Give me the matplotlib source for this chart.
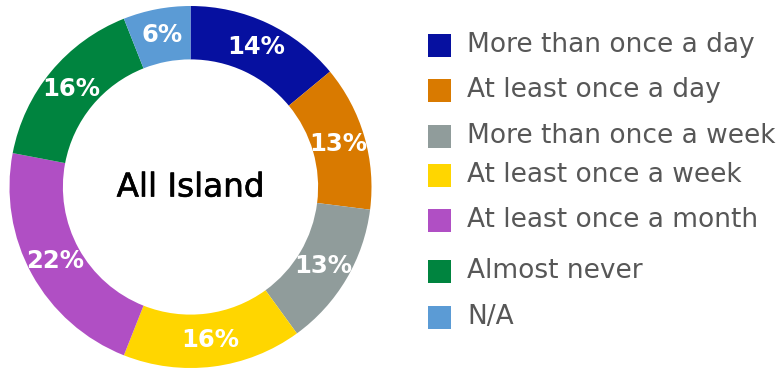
import matplotlib.pyplot as plt
import matplotlib.patheffects as pe
from matplotlib.patches import Rectangle

# 频率分类与占比
categories = [
    "More than once a day",
    "At least once a day",
    "More than once a week",
    "At least once a week",
    "At least once a month",
    "Almost never",
    "N/A",
]
shares = [14, 13, 13, 16, 22, 16, 6]
colors = ["#0610A0", "#D97A00", "#909C9B", "#FFD600", "#B04FC4", "#00843F", "#5B9BD5"]
center_label = "All Island"

plt.rcParams['font.family'] = ['DejaVu Sans']

W, H = 782, 369
fig = plt.figure(figsize=(W / 100, H / 100), dpi=100, facecolor='white')

# 圆环图区域（像素坐标换算）
cx, cy, r = 190.5, 182, 181
ax = fig.add_axes([(cx - r) / W, (cy - r) / H, 2 * r / W, 2 * r / H])
ax.set_aspect('equal')
ax.axis('off')

ring = 0.295
wedges, _, autotexts = ax.pie(
    shares,
    colors=colors,
    startangle=90,
    counterclock=False,
    radius=1,
    wedgeprops=dict(width=ring, linewidth=0),
    autopct=lambda p: f"{p:.0f}%",
    pctdistance=1 - ring / 2,
    textprops=dict(color='white', fontsize=17.5, fontweight='bold'),
)
ax.set_xlim(-1, 1)
ax.set_ylim(-1, 1)

ax.text(0, 0, center_label, ha='center', va='center', fontsize=23.5,
        color='black',
        path_effects=[pe.withStroke(linewidth=0.45, foreground='black')])

# 右侧图例
legend_y = [45, 90, 136, 175, 220, 271, 317]
for name, col, y in zip(categories, colors, legend_y):
    fig.patches.append(Rectangle((428 / W, (H - y - 11.5) / H), 23 / W, 23 / H,
                                 transform=fig.transFigure, facecolor=col,
                                 edgecolor='none'))
    fig.text(467 / W, (H - y) / H, name, ha='left', va='center',
             fontsize=19, color='#575757')

fig.savefig('out.png', dpi=100, facecolor='white')
